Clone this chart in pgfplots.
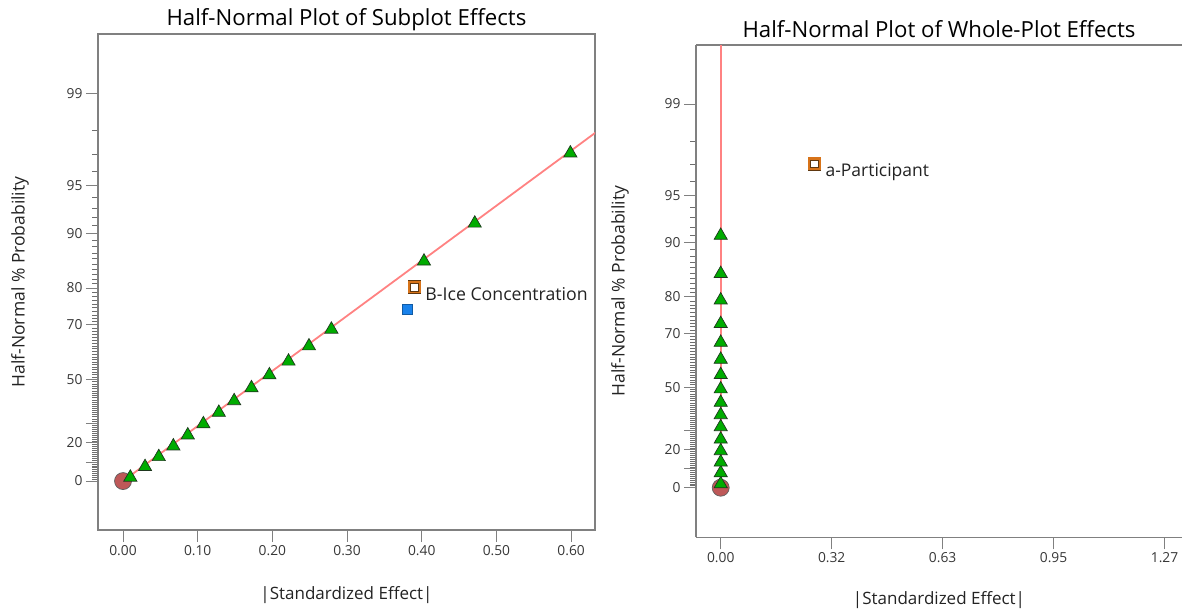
\documentclass[border=0pt]{standalone}
\usepackage{pgfplots}
\pgfplotsset{compat=1.18}
\usepackage{fontspec}
\setmainfont{Open Sans}

\definecolor{axgray}{RGB}{128,128,128}
\definecolor{ticktext}{RGB}{55,55,55}
\definecolor{labeltext}{RGB}{35,35,35}
\definecolor{fitline}{RGB}{255,130,130}
\definecolor{trigreen}{RGB}{0,172,0}
\definecolor{triedge}{RGB}{30,55,30}
\definecolor{ptred}{RGB}{190,88,88}
\definecolor{ptedge}{RGB}{95,95,95}
\definecolor{sqorange}{RGB}{215,115,25}
\definecolor{sqedge}{RGB}{95,55,15}
\definecolor{sqblue}{RGB}{25,130,235}

% Half-normal probability scale: y is the normal quantile z = Phi^{-1}(0.5 + p/200)
\pgfplotsset{
  hnbase/.style n args={3}{% #1 title raise, #2 y label offset, #3 x label offset
    scale only axis,
    anchor=north west,
    tick align=outside,
    major tick length=12pt,
    minor tick length=6pt,
    axis line style={axgray, line width=1.3pt, -},
    every tick/.style={axgray, line width=1pt},
    minor tick style={axgray!85!black, line width=0.8pt},
    tick label style={font=\fontsize{13.8}{16}\selectfont, text=ticktext},
    ytick={0,0.12566,0.25335,0.38532,0.67449,1.03643,1.28155,1.64485,1.95996,2.57583},
    yticklabels={0,,20,,50,70,80,90,95,99},
    minor ytick={0.0125,0.0251,0.0376,0.0502,0.0627,0.0753,0.0878,0.1004,0.1130,
      0.1383,0.1510,0.1637,0.1764,0.1891,0.2019,0.2147,0.2275,0.2404,
      0.2663,0.2793,0.2924,0.3055,0.3186,0.3319,0.3451,0.3585,0.3719,
      0.3989,0.4125,0.4261,0.4399,0.4538,0.4677,0.4817,0.4959,0.5101,0.5244,
      0.5388,0.5534,0.5681,0.5828,0.5978,0.6128,0.6280,0.6433,0.6588,
      0.6903,0.7063,0.7225,0.7388,0.7554,0.7722,0.7892,0.8064,0.8239,0.8416,
      0.8596,0.8779,0.8965,0.9154,0.9346,0.9542,0.9741,0.9945,1.0152,
      1.0581,1.0803,1.1031,1.1264,1.1503,1.1750,1.2004,1.2265,1.2536,
      1.3106,1.3408,1.3722,1.4051,1.4395,1.4758,1.5141,1.5548,1.5982,
      1.6954,1.7507,1.8119,1.8808,2.0537,2.1701,2.3263},
    xtick pos=bottom, ytick pos=left,
    xlabel={|Standardized Effect|},
    ylabel={Half-Normal \% Probability},
    every axis title/.style={at={(axis description cs:0.5,1)}, yshift=#1,
      anchor=south, font=\fontsize{22.2}{26}\selectfont, text=black},
    every axis y label/.style={at={(axis description cs:0,0.5)}, xshift=#2,
      rotate=90, anchor=center, font=\fontsize{17.5}{20}\selectfont, text=labeltext},
    every axis x label/.style={at={(axis description cs:0.5,0)}, yshift=#3,
      anchor=center, font=\fontsize{17}{20}\selectfont, text=labeltext},
  },
  fitstyle/.style={fitline, line width=1.8pt, no marks},
  errpt/.style={only marks, mark=*, mark size=8.5pt,
    mark options={fill=ptred, draw=ptedge, line width=0.7pt}},
  tripts/.style={only marks, mark=triangle*, mark size=7.6pt,
    mark options={fill=trigreen, draw=triedge, line width=0.7pt}},
  sqout/.style={only marks, mark=square, mark size=6.3pt,
    mark options={draw=sqedge, line width=0.6pt}},
  sqmid/.style={only marks, mark=square*, mark size=5.2pt,
    mark options={fill=white, draw=sqorange, line width=2.2pt}},
  sqin/.style={only marks, mark=square, mark size=3.9pt,
    mark options={draw=sqedge, line width=0.5pt}},
}

\begin{document}
\begin{tikzpicture}
\path[use as bounding box] (0pt,0pt) rectangle (1182pt,-613pt);

% ---------------- Subplot effects ----------------
\begin{axis}[hnbase={0pt}{-78pt}{-65pt},
  at={(98pt,-34pt)}, width=497pt, height=496pt,
  xmin=-0.0335, xmax=0.632, ymin=-0.325, ymax=2.968,
  xtick={0,0.1,0.2,0.3,0.4,0.5,0.6},
  xticklabels={0.00,0.10,0.20,0.30,0.40,0.50,0.60},
  title={Half-Normal Plot of Subplot Effects},
]
\addplot[fitstyle] coordinates {(0,0) (0.64,2.34)};
\addplot[errpt] coordinates {(0,0)};
\addplot[tripts] table {
x z
0.0098 0.0245
0.0295 0.0947
0.0479 0.161
0.0674 0.232
0.0867 0.305
0.1076 0.379
0.1283 0.455
0.1488 0.532
0.1720 0.618
0.1960 0.704
0.2216 0.795
0.2490 0.896
0.2790 1.007
0.4030 1.459
0.4710 1.711
0.5990 2.177
};
\addplot[only marks, mark=square*, mark size=5pt,
  mark options={fill=sqblue, draw=sqblue!70!black, line width=0.5pt}]
  coordinates {(0.380,1.141)};
\addplot[sqout] coordinates {(0.390,1.289)};
\addplot[sqmid] coordinates {(0.390,1.289)};
\addplot[sqin] coordinates {(0.390,1.289)};
\node[anchor=base west, font=\fontsize{17.7}{20}\selectfont, text=labeltext,
  inner sep=0pt, xshift=11pt, yshift=-14pt] at (axis cs:0.390,1.289) {B-Ice Concentration};
\end{axis}

% ---------------- Whole-plot effects ----------------
\begin{axis}[hnbase={4pt}{-76pt}{-63pt},
  at={(696pt,-45pt)}, width=486pt, height=492.3pt,
  axis x line*=box, axis y line*=left,
  xmin=-0.0707, xmax=1.320, ymin=-0.333, ymax=2.972,
  xtick={0,0.3175,0.635,0.9525,1.27},
  xticklabels={0.00,0.32,0.63,0.95,1.27},
  title={Half-Normal Plot of Whole-Plot Effects},
]
\addplot[fitstyle] coordinates {(0,0) (0,3.1)};
\addplot[errpt] coordinates {(0,0)};
\addplot[tripts] table {
x z
0 0.025
0 0.099
0 0.171
0 0.247
0 0.325
0 0.408
0 0.489
0 0.572
0 0.662
0 0.758
0 0.861
0 0.975
0 1.101
0 1.259
0 1.437
0 1.693
};
\addplot[sqout] coordinates {(0.268,2.175)};
\addplot[sqmid] coordinates {(0.268,2.175)};
\addplot[sqin] coordinates {(0.268,2.175)};
\node[anchor=base west, font=\fontsize{17.5}{20}\selectfont, text=labeltext,
  inner sep=0pt, xshift=11pt, yshift=-12.5pt] at (axis cs:0.268,2.175) {a-Participant};
\end{axis}
\end{tikzpicture}
\end{document}
